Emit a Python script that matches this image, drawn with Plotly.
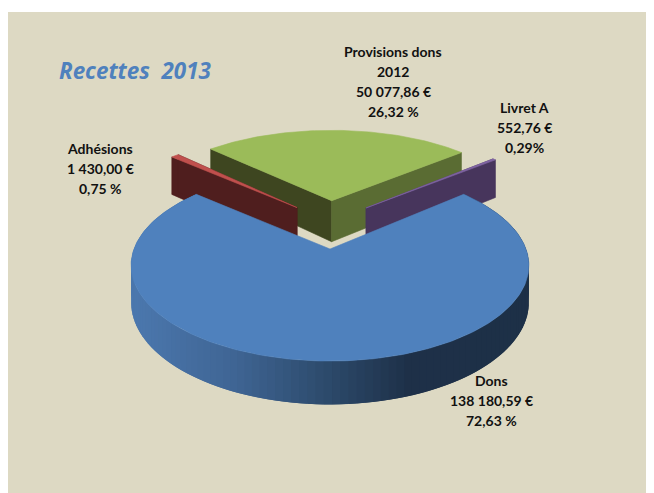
import math
import plotly.graph_objects as go

# Data (clockwise from the first slice)
names = ["Adhésions", "Provisions dons<br>2012", "Livret A", "Dons"]
values = [1430.00, 50077.86, 552.76, 138180.59]
amount_labels = ["1 430,00 €", "50 077,86 €", "552,76 €", "138 180,59 €"]
percent_labels = ["0,75 %", "26,32 %", "0,29%", "72,63 %"]
top_colors = ["#C0504D", "#9BBB59", "#8064A2", "#4F81BD"]
wall_colors = [("#4F1E1E", "#4F1E1E"), ("#3E4620", "#5A6C33"), ("#47355C", "#47355C"), ("#2B4868", "#2B4868")]
label_x = [100, 393, 524, 491]
label_y = [168, 81, 127, 400]
title_text = "Recettes  2013"

# Styling of the view
explode = [0.25, 0.26, 0.26, 0.31]
radius = [1.06, 1.06, 1.05, 1.0]
depth = [45.0, 45.0, 45.0, 36.0]   # extrusion height of each slice
BG = "#DDD9C3"
CX, CY = 330.0, 249.0   # screen position of the Dons slice's tip
RX, RY = 196.0, 93.0    # horizontal / vertical scale
D = 5.88                # perspective distance
VIEW_OFFSET = 0.31
ROTATE = 1.2
LINE_HEIGHT = 20


def project(x, y, z=0.0):
    """World point (relative to pie centre, y to the back) to the page."""
    yy = y + VIEW_OFFSET
    s = D / (D + yy)
    return CX + RX * x * s, CY - RY * yy * s + z * s


def mix(a, b, t):
    return "#" + "".join(
        f"{round(int(a[i:i+2], 16) * (1 - t) + int(b[i:i+2], 16) * t):02X}" for i in (1, 3, 5)
    )


def side_color(px):
    stops = [(135, "#4B77AD"), (230, "#3F6594"), (330, "#2B4868"), (405, "#1E3048"), (530, "#1D3047")]
    if px <= stops[0][0]:
        return stops[0][1]
    for (x0, c0), (x1, c1) in zip(stops, stops[1:]):
        if px <= x1:
            return mix(c0, c1, (px - x0) / (x1 - x0))
    return stops[-1][1]


fig = go.Figure()


def poly(points, color, lw=0.6):
    xs = [p[0] for p in points] + [points[0][0]]
    ys = [p[1] for p in points] + [points[0][1]]
    fig.add_trace(go.Scatter(
        x=xs, y=ys, mode="lines", fill="toself", fillcolor=color,
        line=dict(color=color, width=lw), hoverinfo="skip", showlegend=False,
    ))


total = sum(values)
sweeps = [v / total * 360 for v in values]
start = -(sweeps[0] + sweeps[1] + sweeps[2]) / 2   # gap is centred on the top of the pie

bounds = []
a = start
for i, sw in enumerate(sweeps):
    rot = ROTATE if i != 3 else 0.0
    bounds.append((a + rot, a + sw + rot))
    a += sw

# paint from the back of the scene to the front
for idx in (1, 0, 2, 3):
    a0, a1 = bounds[idx]
    mid = math.radians((a0 + a1) / 2)
    e0, r0, h0 = explode[idx], radius[idx], depth[idx]
    ox, oy = e0 * math.sin(mid), e0 * math.cos(mid)
    at = lambda deg: (ox + r0 * math.sin(math.radians(deg)), oy + r0 * math.cos(math.radians(deg)))

    steps = max(2, int((a1 - a0) / 1.0))
    arc = [a0 + (a1 - a0) * i / steps for i in range(steps + 1)]

    if idx != 3:
        # the two radial walls
        tip = (ox, oy)
        for deg, col in ((a0, wall_colors[idx][0]), (a1, wall_colors[idx][1])):
            e = at(deg)
            poly([project(*tip), project(*e), project(*e, h0), project(*tip, h0)], col)
    else:
        # the curved outer wall with its shading; each band overlaps the last
        band = 2
        for j in range(0, steps - band, band):
            chunk = arc[j:j + band + 3]
            tops = [project(*at(d)) for d in chunk]
            bottoms = [project(*at(d), h0) for d in chunk]
            q = tops + bottoms[::-1]
            poly(q, side_color(sum(p[0] for p in q) / len(q)), lw=0)

    poly([project(ox, oy)] + [project(*at(d)) for d in arc], top_colors[idx])

annotations = []
for i in range(4):
    lines = names[i].split("<br>") + [amount_labels[i], percent_labels[i]]
    first = label_y[i] - LINE_HEIGHT * (len(lines) - 1) / 2
    for k, line in enumerate(lines):
        annotations.append(dict(
            x=label_x[i], y=first + k * LINE_HEIGHT, xref="x", yref="y", showarrow=False,
            text=f"<b>{line}</b>",
            font=dict(family="Lato", size=14, color="#111111"),
        ))
annotations.append(dict(
    x=57, y=70, xref="x", yref="y", xanchor="left", showarrow=False,
    text=f"<b><i>{title_text.replace('  ', '&nbsp; ')}</i></b>",
    font=dict(family="Open Sans", size=22.4, color="#4F81BD"),
))

# The page keeps an 8 px body margin, so the plot area covers x 8-654, y 8-493.
fig.update_layout(
    width=646, height=485, autosize=False, margin=dict(l=0, r=0, t=0, b=0),
    paper_bgcolor="white", plot_bgcolor="white", showlegend=False,
    xaxis=dict(range=[8, 654], visible=False, fixedrange=True),
    yaxis=dict(range=[493, 8], visible=False, fixedrange=True),
    shapes=[dict(type="rect", xref="x", yref="y", x0=8, x1=654, y0=12, y1=493,
                 fillcolor=BG, line_width=0, layer="below")],
    annotations=annotations,
)
fig.write_html("out.html", config={"displayModeBar": False})
